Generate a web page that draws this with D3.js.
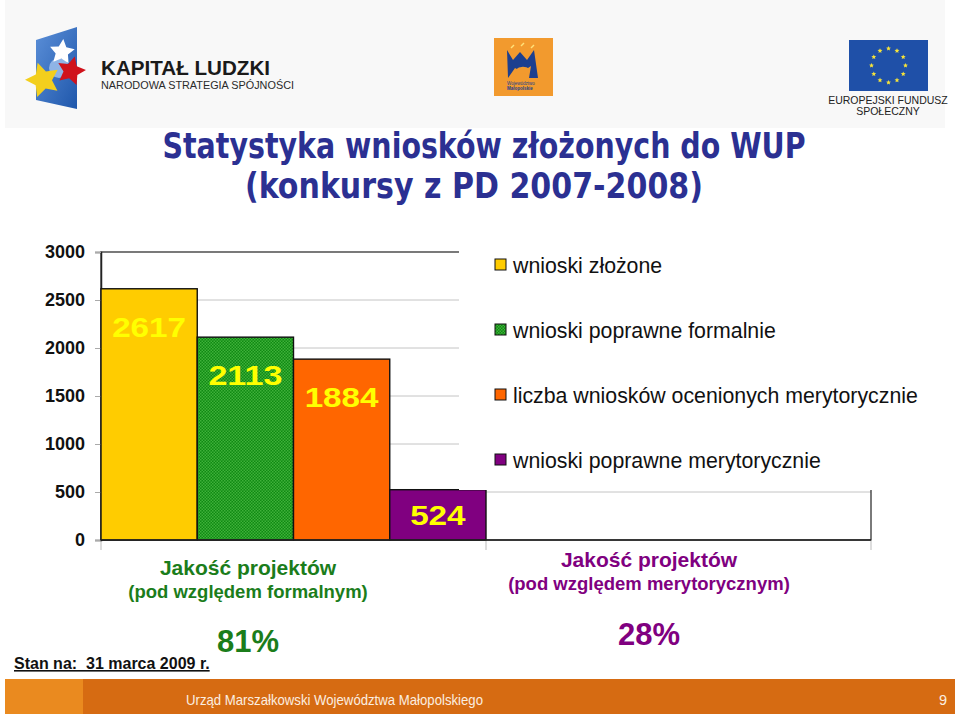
<!DOCTYPE html>
<html>
<head>
<meta charset="utf-8">
<script src="https://cdn.jsdelivr.net/npm/d3@7"></script>
<style>
  body { margin: 0; background: #fff; }
  svg { display: block; font-family: "Liberation Sans", Arial, sans-serif; }
</style>
</head>
<body>
<script>
// dane wykresu
const groups = ['formalna', 'merytoryczna'];
const series = ['wnioski złożone', 'wnioski poprawne formalnie',
  'liczba wniosków ocenionych merytorycznie', 'wnioski poprawne merytorycznie'];
const values = [2617, 2113, 1884, 524];
const yTicks = [0, 500, 1000, 1500, 2000, 2500, 3000];
const qualityTitles = ['Jakość projektów', 'Jakość projektów'];
const qualitySubtitles = ['(pod względem formalnym)', '(pod względem merytorycznym)'];
const qualityShares = ['81%', '28%'];

const colors = ['#ffcc00', 'url(#greenDots)', '#ff6600', '#800080'];
const qualityColors = ['#1b7d1b', '#800080'];

const width = 960;
const height = 716;

const svg = d3.select('body').append('svg')
  .attr('width', width)
  .attr('height', height);

// wzór kropkowany dla zielonego słupka
const defs = svg.append('defs');
const pat = defs.append('pattern')
  .attr('id', 'greenDots')
  .attr('width', 3).attr('height', 3)
  .attr('patternUnits', 'userSpaceOnUse');
pat.append('rect').attr('width', 3).attr('height', 3).attr('fill', '#0f8a12');
pat.append('rect').attr('width', 1.5).attr('height', 1.5).attr('fill', '#3fb03a');
pat.append('rect').attr('x', 1.5).attr('y', 1.5).attr('width', 1.5).attr('height', 1.5).attr('fill', '#3fb03a');

// --- nagłówek z logotypami ---
svg.append('rect').attr('x', 5).attr('y', 0).attr('width', 940).attr('height', 128).attr('fill', '#f8f8f8');

const kl = svg.append('g');
const blueGrad = defs.append('linearGradient').attr('id', 'klBlue')
  .attr('x1', 0).attr('y1', 0).attr('x2', 1).attr('y2', 1);
blueGrad.append('stop').attr('offset', 0).attr('stop-color', '#5b8fd8');
blueGrad.append('stop').attr('offset', 1).attr('stop-color', '#1f57ab');
kl.append('path').attr('d', 'M36,40 L77,27 L77,109 L36,100 Z').attr('fill', 'url(#klBlue)');

const star = (cx, cy, r, rot, inner = 0.45) => {
  const pts = d3.range(10).map(i => {
    const a = rot + i * Math.PI / 5 - Math.PI / 2;
    const rr = i % 2 ? r * inner : r;
    return [cx + rr * Math.cos(a), cy + rr * Math.sin(a)];
  });
  return 'M' + pts.join('L') + 'Z';
};
kl.append('circle').attr('cx', 59).attr('cy', 68).attr('r', 10).attr('fill', '#8fb4e6');
kl.append('path').attr('d', star(62, 52, 13, 0.1, 0.5)).attr('fill', '#ffffff');
kl.append('path').attr('d', star(71, 71, 15, 0.25, 0.5)).attr('fill', '#d0121b');
kl.append('path').attr('d', star(43, 80, 18, -0.3, 0.5)).attr('fill', '#f3cf1d');

svg.append('text').attr('x', 101).attr('y', 75)
  .attr('font-size', 21).attr('font-weight', 'bold').attr('fill', '#1a1a1a')
  .attr('textLength', 169).attr('lengthAdjust', 'spacingAndGlyphs')
  .text('KAPITAŁ LUDZKI');
svg.append('text').attr('x', 101).attr('y', 89)
  .attr('font-size', 11).attr('fill', '#2a2a2a')
  .attr('textLength', 193).attr('lengthAdjust', 'spacingAndGlyphs')
  .text('NARODOWA STRATEGIA SPÓJNOŚCI');

// logo Małopolski
const mp = svg.append('g');
mp.append('rect').attr('x', 494).attr('y', 38).attr('width', 59).attr('height', 58).attr('fill', '#f29a2e');
mp.append('path')
  .attr('d', 'M507,50 L513,60 L520,52 L527,60 L534,50 L538,78 L529,78 L531,66 L522,72 L515,68 L508,78 Z')
  .attr('fill', '#1c3f8f');
mp.append('path').attr('d', 'M515,70 Q522,64 530,69 L528,75 Q521,71 516,76 Z').attr('fill', '#f29a2e');
[[511, 45], [521, 43], [531, 45]].forEach(p => {
  mp.append('line').attr('x1', p[0]).attr('y1', p[1] + 3).attr('x2', p[0] + 3).attr('y2', p[1])
    .attr('stroke', '#ffe27a').attr('stroke-width', 1.5);
});
mp.append('text').attr('x', 507).attr('y', 85).attr('font-size', 4.5).attr('fill', '#1c3f8f').text('Województwo');
mp.append('text').attr('x', 507).attr('y', 90).attr('font-size', 4.5).attr('font-weight', 'bold').attr('fill', '#1c3f8f').text('Małopolskie');

// flaga UE
const eu = svg.append('g');
eu.append('rect').attr('x', 849).attr('y', 40).attr('width', 79).attr('height', 51).attr('fill', '#1f50a8');
d3.range(12).forEach(i => {
  const a = i * Math.PI / 6;
  eu.append('path').attr('d', star(888.5 + 17 * Math.cos(a), 65.5 + 17 * Math.sin(a), 2.6, 0)).attr('fill', '#f6e33a');
});
svg.append('text').attr('x', 888).attr('y', 104).attr('text-anchor', 'middle')
  .attr('font-size', 10.5).attr('fill', '#222').text('EUROPEJSKI FUNDUSZ');
svg.append('text').attr('x', 888).attr('y', 115).attr('text-anchor', 'middle')
  .attr('font-size', 10.5).attr('fill', '#222').text('SPOŁECZNY');

// --- tytuł ---
const title = svg.append('text').attr('text-anchor', 'middle')
  .attr('font-family', '"DejaVu Sans Condensed", "DejaVu Sans", sans-serif')
  .attr('font-weight', 'bold').attr('font-size', 36).attr('fill', '#2b3092');
title.append('tspan').attr('x', 484).attr('y', 158)
  .attr('textLength', 643).attr('lengthAdjust', 'spacingAndGlyphs')
  .text('Statystyka wniosków złożonych do WUP');
title.append('tspan').attr('x', 474).attr('y', 198)
  .attr('textLength', 458).attr('lengthAdjust', 'spacingAndGlyphs')
  .text('(konkursy z PD 2007-2008)');

// --- wykres ---
const x0 = d3.scaleBand().domain(groups).range([101, 871]).padding(0);
const x1 = d3.scaleBand().domain(series).range([0, x0.bandwidth()]).padding(0);
const y = d3.scaleLinear().domain([0, 3000]).range([540, 252]);

const plot = svg.append('g');

plot.selectAll('.grid')
  .data(yTicks.filter(t => t > 0 && t < 3000))
  .enter().append('line')
  .attr('x1', x0.range()[0]).attr('x2', x0.range()[1])
  .attr('y1', d => y(d)).attr('y2', d => y(d))
  .attr('stroke', '#c4c4c4').attr('stroke-width', 1);

plot.append('rect')
  .attr('x', x0.range()[0]).attr('y', y(3000))
  .attr('width', x0.range()[1] - x0.range()[0]).attr('height', y(0) - y(3000))
  .attr('fill', 'none').attr('stroke', '#333').attr('stroke-width', 1.3);

// oś Y
const yAxis = svg.append('g')
  .attr('transform', `translate(${x0.range()[0]},0)`)
  .call(d3.axisLeft(y).tickValues(yTicks).tickFormat(d3.format('d')).tickSize(6).tickPadding(10));
yAxis.select('.domain').attr('stroke', '#222').attr('stroke-width', 1.5);
yAxis.selectAll('.tick line').attr('stroke', '#aaa');
yAxis.selectAll('.tick text')
  .attr('font-family', '"Liberation Sans", Arial, sans-serif')
  .attr('font-size', 18).attr('font-weight', 'bold').attr('fill', '#111');

// znaczniki kategorii na osi X
const xBounds = groups.map(g => x0(g)).concat([x0.range()[1]]);
plot.selectAll('.xtick')
  .data(xBounds)
  .enter().append('line')
  .attr('x1', d => d).attr('x2', d => d)
  .attr('y1', y(0)).attr('y2', y(0) + 10)
  .attr('stroke', '#bbb');

// słupki
const bars = svg.append('g').attr('transform', `translate(${x0(groups[0])},0)`);
bars.selectAll('rect')
  .data(values)
  .enter().append('rect')
  .attr('x', (d, i) => x1(series[i]))
  .attr('y', d => y(d))
  .attr('width', x1.bandwidth())
  .attr('height', d => y(0) - y(d))
  .attr('fill', (d, i) => colors[i])
  .attr('stroke', '#111').attr('stroke-width', 1.4);

bars.selectAll('text')
  .data(values)
  .enter().append('text')
  .attr('x', (d, i) => x1(series[i]) + x1.bandwidth() / 2)
  .attr('y', d => Math.min(y(d) + 48, y(0) - 15))
  .attr('text-anchor', 'middle')
  .attr('font-size', 28).attr('font-weight', 'bold').attr('fill', '#ffff00')
  .attr('textLength', d => String(d).length * 18.5).attr('lengthAdjust', 'spacingAndGlyphs')
  .text(d => d);

svg.append('line')
  .attr('x1', x0.range()[0]).attr('x2', x0.range()[1])
  .attr('y1', y(0)).attr('y2', y(0))
  .attr('stroke', '#222').attr('stroke-width', 1.5);

// legenda (białe tło zasłania część obszaru wykresu)
svg.append('rect').attr('x', 459).attr('y', 244).attr('width', 501).attr('height', y(500) - 244 - 2)
  .attr('fill', '#fff');
const legend = svg.append('g').selectAll('g')
  .data(series)
  .enter().append('g')
  .attr('transform', (d, i) => `translate(495,${273 + i * 65})`);
legend.append('rect')
  .attr('x', 0).attr('y', -14).attr('width', 11).attr('height', 11)
  .attr('fill', (d, i) => colors[i]).attr('stroke', '#111').attr('stroke-width', 1);
legend.append('text')
  .attr('x', 18).attr('y', 0)
  .attr('font-size', 21.3).attr('fill', '#111')
  .text(d => d);

// --- opisy jakości ---
const qx = [248, 649];
const qy = [575, 567];
const qShareY = [652, 645];
groups.forEach((g, i) => {
  svg.append('text').attr('x', qx[i]).attr('y', qy[i]).attr('text-anchor', 'middle')
    .attr('font-size', 21).attr('font-weight', 'bold').attr('fill', qualityColors[i])
    .text(qualityTitles[i]);
  svg.append('text').attr('x', qx[i]).attr('y', qy[i] + 23).attr('text-anchor', 'middle')
    .attr('font-size', 18.5).attr('font-weight', 'bold').attr('fill', qualityColors[i])
    .text(qualitySubtitles[i]);
  svg.append('text').attr('x', qx[i]).attr('y', qShareY[i]).attr('text-anchor', 'middle')
    .attr('font-size', 31).attr('font-weight', 'bold').attr('fill', qualityColors[i])
    .text(qualityShares[i]);
});

svg.append('text').attr('x', 14).attr('y', 669)
  .attr('font-size', 16).attr('font-weight', 'bold').attr('fill', '#111')
  .attr('text-decoration', 'underline')
  .style('white-space', 'pre')
  .text('Stan na:  31 marca 2009 r.');

// --- stopka ---
svg.append('rect').attr('x', 5).attr('y', 679).attr('width', 950).attr('height', 35).attr('fill', '#d66b12');
svg.append('rect').attr('x', 5).attr('y', 679).attr('width', 78).attr('height', 35).attr('fill', '#ea8a1f');
svg.append('text').attr('x', 186).attr('y', 705)
  .attr('font-size', 14.5).attr('fill', '#fbeee0')
  .attr('textLength', 297).attr('lengthAdjust', 'spacingAndGlyphs')
  .text('Urząd Marszałkowski Województwa Małopolskiego');
svg.append('text').attr('x', 943).attr('y', 705).attr('text-anchor', 'middle')
  .attr('font-size', 14.5).attr('fill', '#fbeee0')
  .text('9');
</script>
</body>
</html>
